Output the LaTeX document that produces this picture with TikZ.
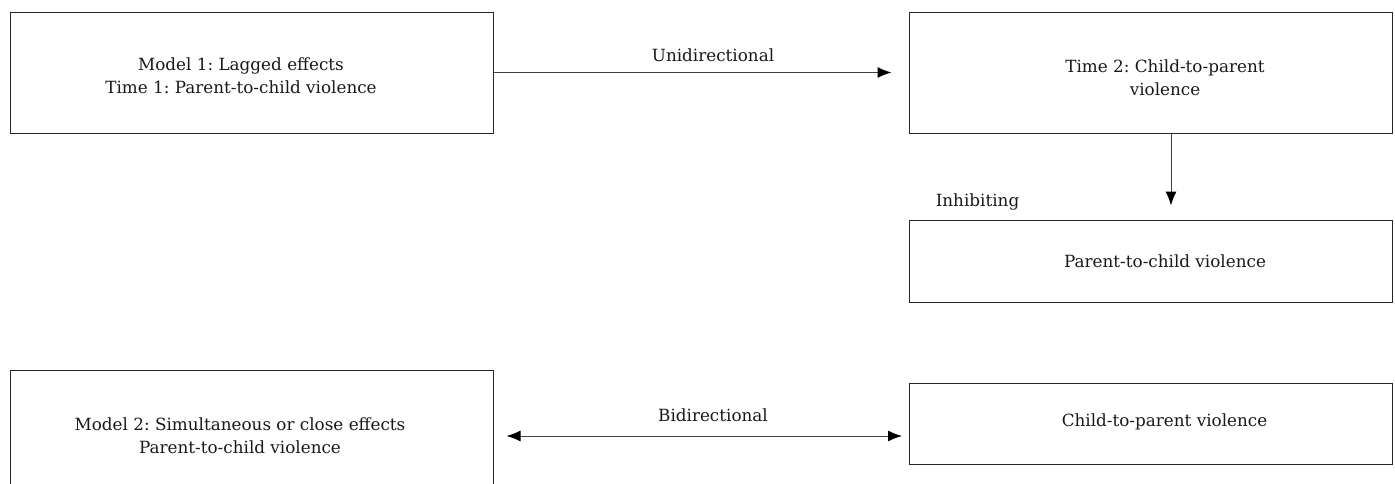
\documentclass[tikz,border=0pt]{standalone}
\usepackage{fontspec}
\setmainfont{DejaVu Serif}
\usepackage{tikz}
\usetikzlibrary{arrows.meta}
\frenchspacing

\begin{document}
\begin{tikzpicture}[x=1pt,y=-1pt]
		\tikzstyle{boite} = [draw=black!85,line width=1pt,minimum width=483pt,inner sep=0pt]
		\tikzstyle{texte} = [align=center,text=black!90,font=\fontsize{16.8}{23}\selectfont]
		\tikzstyle{fleche} = [->,>={Latex[length=14pt,width=11pt,black]},line width=1pt,draw=black!75]
		
		\useasboundingbox (0,0) rectangle (1395,483);
		
		\node[boite,minimum height=121pt](M1) at (251.5,72.5) {};
		\node[boite,minimum height=121pt](T2) at (1150.5,72.5) {};
		\node[boite,minimum height=82pt](PC) at (1150.5,261) {};
		\node[boite,minimum height=132pt](M2) at (251.5,436) {};
		\node[boite,minimum height=81pt](CP) at (1151,423.5) {};
		
		\node[texte](M1t) at (241,75.5) {Model 1: Lagged effects\\Time 1: Parent-to-child violence};
		\node[texte](T2t) at (1165,78) {Time 2: Child-to-parent\\violence};
		\node[texte](PCt) at (1165,261) {Parent-to-child violence};
		\node[texte](M2t) at (240,436) {Model 2: Simultaneous or close effects\\Parent-to-child violence};
		\node[texte](CPt) at (1164.5,422) {Child-to-parent violence};
		
		\node[texte](uni) at (713,55) {Unidirectional};
		\node[texte](bi) at (713,415) {Bidirectional};
		\node[texte](inh) at (977.5,202) {Inhibiting};
		
		\draw[fleche,shorten >=17pt] (M1) -- (T2);
		\draw[fleche,shorten >=14pt] ([xshift=20.5pt]T2.south) -- ([xshift=20.5pt]PC.north);
		\draw[fleche,<->,shorten <=13pt,shorten >=7pt] (M2.east) -- (M2.east -| CP.west);
								
\end{tikzpicture}
\end{document}
